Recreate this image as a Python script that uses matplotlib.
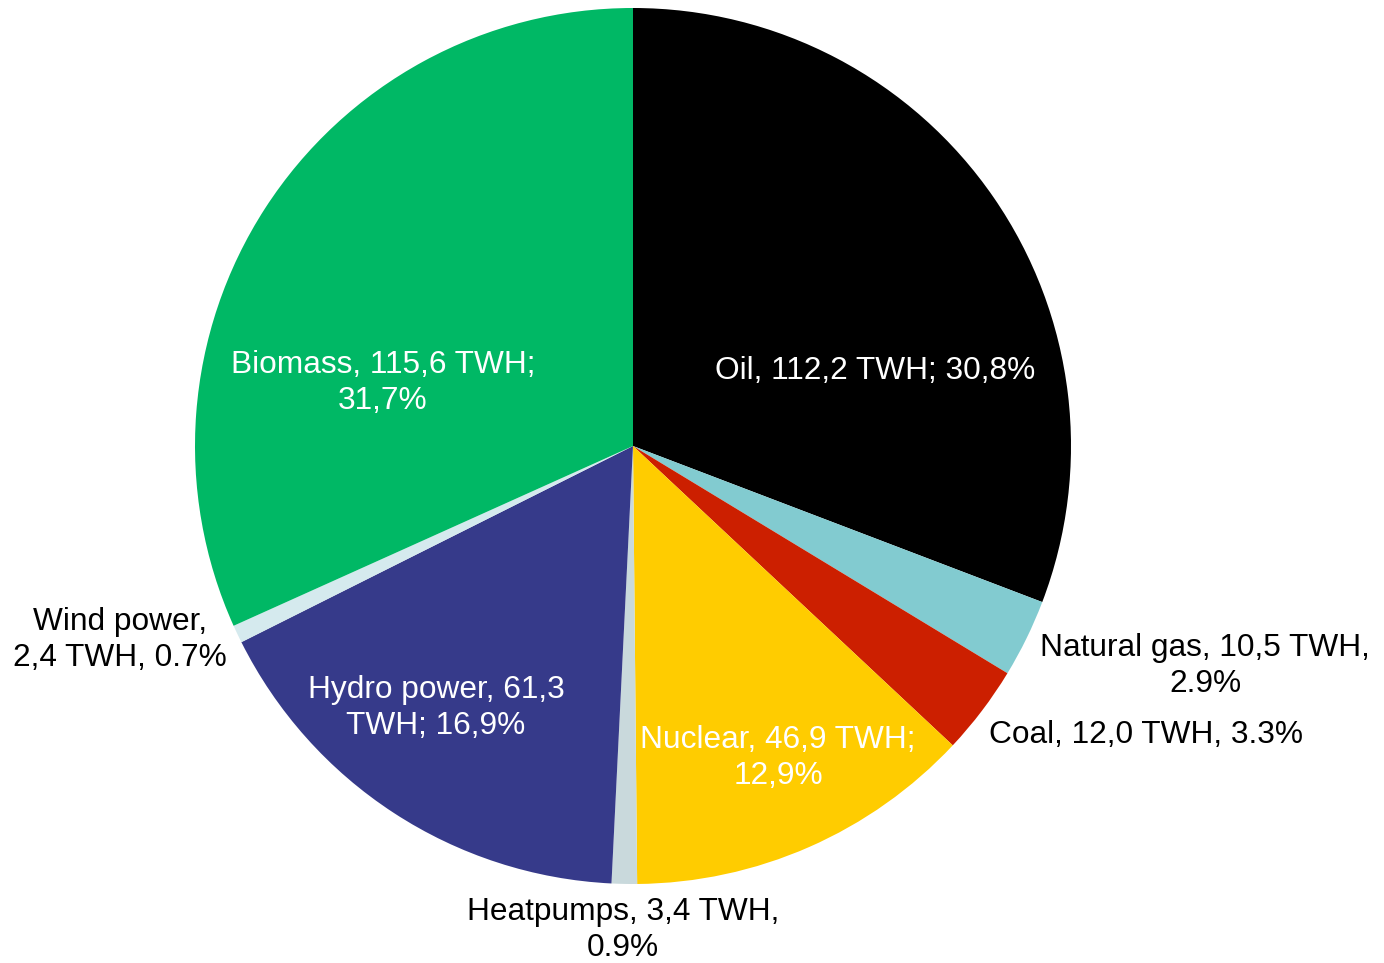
import matplotlib
matplotlib.use("Agg")
import matplotlib.pyplot as plt

labels = ["Oil, 112,2 TWH; 30,8%", "Natural gas, 10,5 TWH,\n2.9%", "Coal, 12,0 TWH, 3.3%",
          "Nuclear, 46,9 TWH;\n12,9%", "Heatpumps, 3,4 TWH,\n0.9%", "Hydro power, 61,3\nTWH; 16,9%",
          "Wind power,\n2,4 TWH, 0.7%", "Biomass, 115,6 TWH;\n31,7%"]
values = [112.2, 10.5, 12.0, 46.9, 3.4, 61.3, 2.4, 115.6]
colors = ["#000000", "#82CBD0", "#CC1F00", "#FFCC00", "#C9D9DC", "#363A8A", "#D5EAEE", "#00B865"]
label_colors = ["white", "black", "black", "white", "black", "white", "black", "white"]
label_pos = [(0.553, 0.171), (1.306, -0.502), (1.171, -0.660), (0.331, -0.712),
             (-0.023, -1.105), (-0.450, -0.598), (-1.171, -0.443), (-0.571, 0.144)]

plt.rcParams['font.family'] = ['Liberation Sans', 'DejaVu Sans']
fig = plt.figure(figsize=(13.84, 9.63), dpi=100)
W, H = 1384, 963
cx, cy, r = 633, 446, 438
ax = fig.add_axes([(cx - r) / W, 1 - (cy + r) / H, 2 * r / W, 2 * r / H])
ax.pie(values, colors=colors, startangle=90, counterclock=False, radius=1,
       wedgeprops=dict(linewidth=0))
ax.set_xlim(-1, 1)
ax.set_ylim(-1, 1)
ax.set_aspect('equal')
ax.axis('off')
for lab, c, (x, y) in zip(labels, label_colors, label_pos):
    ax.text(x, y, lab, color=c, ha='center', va='center', fontsize=22.8,
            linespacing=1.25, clip_on=False)
fig.savefig("out.png", dpi=100)
